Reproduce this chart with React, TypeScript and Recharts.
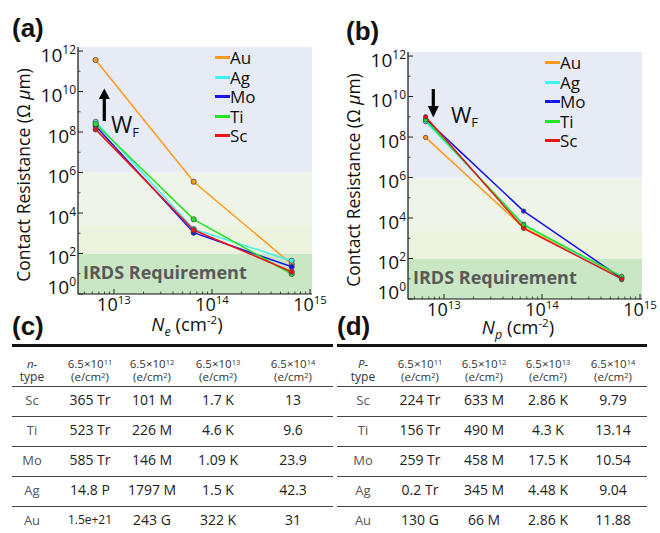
import React from 'react';
import { LineChart, Line, XAxis, YAxis, ReferenceArea, Legend, Label } from 'recharts';

const FONT = '"Open Sans", "Noto Sans", sans-serif';

// ---------- data ----------
const densities = [6.5e12, 6.5e13, 6.5e14];
const metals = ['Au', 'Ag', 'Mo', 'Ti', 'Sc'];
const metalColors = ['#ff9a1a', '#3cf2f2', '#1414ee', '#22e622', '#ee1414'];

// (a) n-type contact resistance (Ω·μm)
const nAu = [3.6e11, 3.5e5, 30];
const nAg = [3.2e8, 1.6e3, 44];
const nMo = [2.0e8, 1.07e3, 22];
const nTi = [2.5e8, 4.9e3, 9.7];
const nSc = [1.35e8, 1.45e3, 12.6];

// (b) p-type contact resistance (Ω·μm)
const pAu = [9.6e7, 3.3e3, 12];
const pAg = [5.7e8, 5.0e3, 9];
const pMo = [7.7e8, 2.2e4, 10.5];
const pTi = [7.0e8, 4.5e3, 13];
const pSc = [1.0e9, 3.1e3, 9.8];

const xMajor = [1e13, 1e14, 1e15];
const bandEdges = [1, 1e2, 2.2e3, 1e6, 10 ** 12.2];

// tables
const tableExps = [11, 12, 13, 14];
const tableMetals = ['Sc', 'Ti', 'Mo', 'Ag', 'Au'];
const nTable = [
  ['365 Tr', '101 M', '1.7 K', '13'],
  ['523 Tr', '226 M', '4.6 K', '9.6'],
  ['585 Tr', '146 M', '1.09 K', '23.9'],
  ['14.8 P', '1797 M', '1.5 K', '42.3'],
  ['1.5e+21', '243 G', '322 K', '31'],
];
const pTable = [
  ['224 Tr', '633 M', '2.86 K', '9.79'],
  ['156 Tr', '490 M', '4.3 K', '13.14'],
  ['259 Tr', '458 M', '17.5 K', '10.54'],
  ['0.2 Tr', '345 M', '4.48 K', '9.04'],
  ['130 G', '66 M', '2.86 K', '11.88'],
];

// ---------- styling ----------
const bandColors = ['#c9e6c5', '#ebf3de', '#eef4e8', '#e7ebf5'];
const X_DOMAIN = [10 ** 12.633, 10 ** 15.02];
const Y_DOMAIN = [1, 10 ** 12.2];

const isPow10 = (v: number) => Math.abs(Math.log10(v) - Math.round(Math.log10(v))) < 1e-9;

const xMinor: number[] = [];
for (let d = 12; d <= 14; d++) {
  for (let m = 2; m <= 9; m++) {
    const v = m * 10 ** d;
    if (v > X_DOMAIN[0] && v < X_DOMAIN[1]) xMinor.push(v);
  }
}
const xTicksAll = [...xMinor, ...xMajor].sort((a, b) => a - b);
const yTicksAll: number[] = [];
for (let d = 0; d <= 12; d++) yTicksAll.push(10 ** d);

const XTick = (props: any) => {
  const { x, y, payload } = props;
  const v = payload.value;
  if (!isPow10(v)) {
    return <line x1={x} x2={x} y1={y} y2={y - 2.5} stroke="#222" strokeWidth={0.8} />;
  }
  const exp = Math.round(Math.log10(v));
  return (
    <g>
      <line x1={x} x2={x} y1={y} y2={y - 5} stroke="#222" strokeWidth={1} />
      <text x={x} y={y + 17} textAnchor="middle" fontFamily={FONT} fontSize={18} fill="#111">
        10<tspan dy={-7} fontSize={11.5}>{exp}</tspan>
      </text>
    </g>
  );
};

const YTick = (props: any) => {
  const { x, y, payload } = props;
  const v = payload.value;
  const exp = Math.round(Math.log10(v));
  if (exp % 2 === 1) {
    return <line x1={x} x2={x + 2.5} y1={y} y2={y} stroke="#222" strokeWidth={0.8} />;
  }
  const base = exp === 0 ? y - 0.5 : y + 10.5;
  return (
    <g>
      <line x1={x} x2={x + 5} y1={y} y2={y} stroke="#222" strokeWidth={1} />
      <text x={x - 2} y={base} textAnchor="end" fontFamily={FONT} fontSize={19} fill="#111">
        10<tspan dy={-8} fontSize={12}>{exp}</tspan>
      </text>
    </g>
  );
};

const LegendBox = () => (
  <div style={{ fontFamily: FONT, fontSize: 17, color: '#111', lineHeight: '19.5px' }}>
    {metals.map((m, i) => (
      <div key={m} style={{ display: 'flex', alignItems: 'center', height: 19.5 }}>
        <span style={{ display: 'inline-block', width: 15, height: 3, background: metalColors[i] }} />
        <span>{m}</span>
      </div>
    ))}
  </div>
);

type PanelProps = {
  series: number[][];
  top: number;
  height: number;
  sub: string;
  dotR: number;
  xLabelX: number;
  xLabelY: number;
};

function Panel({ series, top, height, sub, dotR, xLabelX, xLabelY }: PanelProps) {
  const rows = densities.map((x, i) => {
    const r: any = { x };
    metals.forEach((m, k) => (r[m] = series[k][i]));
    return r;
  });
  return (
    <LineChart width={330} height={height} data={rows} margin={{ top, right: 18, bottom: 0, left: 0 }}>
      {bandColors.map((c, i) => (
        <ReferenceArea
          key={i}
          y1={bandEdges[i]}
          y2={bandEdges[i + 1]}
          fill={c}
          fillOpacity={1}
          stroke="none"
          ifOverflow="hidden"
        />
      ))}
      <XAxis
        dataKey="x"
        type="number"
        scale="log"
        domain={X_DOMAIN}
        allowDataOverflow
        ticks={xTicksAll}
        interval={0}
        tick={<XTick />}
        tickLine={false}
        tickSize={0}
        tickMargin={0}
        height={46}
        axisLine={{ stroke: '#111', strokeWidth: 1.2 }}
      >
        <Label
          content={() => (
            <text x={xLabelX} y={xLabelY} textAnchor="middle" fontFamily={FONT} fontSize={18.5} fill="#111">
              <tspan fontStyle="italic">N</tspan>
              <tspan fontStyle="italic" fontSize={12.5} dy={5}>{sub}</tspan>
              <tspan dy={-5}> (cm</tspan>
              <tspan fontSize={11.5} dy={-7}>-2</tspan>
              <tspan dy={7}>)</tspan>
            </text>
          )}
        />
      </XAxis>
      <YAxis
        type="number"
        scale="log"
        domain={Y_DOMAIN}
        allowDataOverflow
        ticks={yTicksAll}
        interval={0}
        tick={<YTick />}
        tickLine={false}
        tickSize={0}
        tickMargin={0}
        width={78}
        axisLine={{ stroke: '#111', strokeWidth: 1.2 }}
      >
        <Label
          content={() => {
            const cx = 23;
            const cy = top + 128;
            return (
              <text
                x={cx}
                y={cy}
                transform={`rotate(-90 ${cx} ${cy})`}
                textAnchor="middle"
                dominantBaseline="central"
                fontFamily={FONT}
                fontSize={17.5}
                fill="#111"
              >
                Contact Resistance (Ω <tspan fontStyle="italic">μ</tspan>m)
              </text>
            );
          }}
        />
      </YAxis>
      <Legend
        layout="vertical"
        align="center"
        verticalAlign="middle"
        content={() => <LegendBox />}
        wrapperStyle={{ left: 215, top: top + 1, width: 60, height: 100 }}
      />
      {metals.map((m, i) => (
        <Line
          key={m}
          dataKey={m}
          stroke={metalColors[i]}
          strokeWidth={1.5}
          dot={{ r: dotR, fill: metalColors[i], stroke: '#4a4a4a', strokeWidth: 0.8 }}
          isAnimationActive={false}
        />
      ))}
    </LineChart>
  );
}

const Ct = ({ x, y, size, color, children, style }: any) => (
  <div
    style={{
      position: 'absolute',
      left: x,
      top: y,
      transform: 'translate(-50%,-50%)',
      fontSize: size,
      color: color || '#222',
      whiteSpace: 'nowrap',
      lineHeight: 1,
      fontFamily: FONT,
      ...style,
    }}
  >
    {children}
  </div>
);

function DataTable({ x0, x1, cols, typeLabel, values }: any) {
  const lines = [386.5, 416.5, 446.5, 476.5, 506.5];
  const rowY = [399.5, 429.5, 459.5, 489.5, 519.5];
  return (
    <>
      <div style={{ position: 'absolute', left: x0, top: 344, width: x1 - x0, height: 2.6, background: '#111' }} />
      {lines.map((y) => (
        <div key={y} style={{ position: 'absolute', left: x0, top: y - 0.6, width: x1 - x0, height: 1.3, background: '#444' }} />
      ))}
      <Ct x={cols[0]} y={363.5} size={11.5} color="#333" style={{ fontStyle: 'italic' }}>{typeLabel}-</Ct>
      <Ct x={cols[0]} y={377} size={12} color="#333">type</Ct>
      {tableExps.map((e: number, j: number) => (
        <React.Fragment key={e}>
          <Ct x={cols[j + 1]} y={364} size={11.5} color="#333">
            6.5×10<span style={{ fontSize: 7.5, position: 'relative', top: -3.5 }}>{e}</span>
          </Ct>
          <Ct x={cols[j + 1]} y={377} size={11.5} color="#333">
            (e/cm<span style={{ fontSize: 7.5, position: 'relative', top: -3.5 }}>2</span>)
          </Ct>
        </React.Fragment>
      ))}
      {tableMetals.map((m: string, i: number) => (
        <React.Fragment key={m}>
          <Ct x={cols[0]} y={rowY[i]} size={13} color="#555">{m}</Ct>
          {values[i].map((v: string, j: number) => (
            <Ct key={j} x={cols[j + 1]} y={rowY[i]} size={v.length > 6 ? 12 : 14} color="#222">{v}</Ct>
          ))}
        </React.Fragment>
      ))}
    </>
  );
}

export default function App() {
  return (
    <div
      style={{
        position: 'absolute',
        left: 0,
        top: 0,
        width: 660,
        height: 533,
        background: '#fff',
        overflow: 'hidden',
        fontFamily: FONT,
      }}
    >
      <div style={{ position: 'absolute', left: 0, top: 0 }}>
        <Panel series={[nAu, nAg, nMo, nTi, nSc]} top={47} height={340} sub="e" dotR={2.6} xLabelX={187} xLabelY={331} />
      </div>
      <div style={{ position: 'absolute', left: 330, top: 0 }}>
        <Panel series={[pAu, pAg, pMo, pTi, pSc]} top={52} height={345} sub="p" dotR={2.2} xLabelX={188} xLabelY={334} />
      </div>

      <svg width={660} height={533} style={{ position: 'absolute', left: 0, top: 0, pointerEvents: 'none' }}>
        {/* (a) W_F arrow up */}
        <line x1={104.3} x2={104.3} y1={121} y2={97} stroke="#000" strokeWidth={3.2} />
        <polygon points="98.8,99 109.8,99 104.3,88.5" fill="#000" />
        <text x={111} y={133} fontFamily={FONT} fontSize={23} fill="#111">
          W<tspan fontSize={13} dy={4}>F</tspan>
        </text>
        {/* (b) W_F arrow down */}
        <line x1={433.3} x2={433.3} y1={89} y2={108} stroke="#000" strokeWidth={3.2} />
        <polygon points="427.8,106 438.8,106 433.3,117.5" fill="#000" />
        <text x={451} y={123} fontFamily={FONT} fontSize={22} fill="#111">
          W<tspan fontSize={13} dy={4}>F</tspan>
        </text>
        {/* IRDS */}
        <text x={83} y={279} fontFamily={FONT} fontSize={18} fontWeight="bold" fill="#595959">IRDS Requirement</text>
        <text x={413} y={284} fontFamily={FONT} fontSize={18} fontWeight="bold" fill="#595959">IRDS Requirement</text>
      </svg>

      {[
        ['(a)', 12, 14],
        ['(b)', 346, 17],
        ['(c)', 12, 312],
        ['(d)', 337, 312],
      ].map(([t, x, y]: any) => (
        <div
          key={t}
          style={{
            position: 'absolute',
            left: x,
            top: y,
            fontFamily: '"Liberation Sans", Arial, sans-serif',
            fontWeight: 'bold',
            fontSize: 26,
            lineHeight: '28px',
            color: '#111',
          }}
        >
          {t}
        </div>
      ))}

      <DataTable x0={12} x1={333} cols={[32, 90, 152, 218, 293]} typeLabel="n" values={nTable} />
      <DataTable x0={337} x1={647} cols={[363, 420, 484, 548, 613]} typeLabel="P" values={pTable} />
    </div>
  );
}
